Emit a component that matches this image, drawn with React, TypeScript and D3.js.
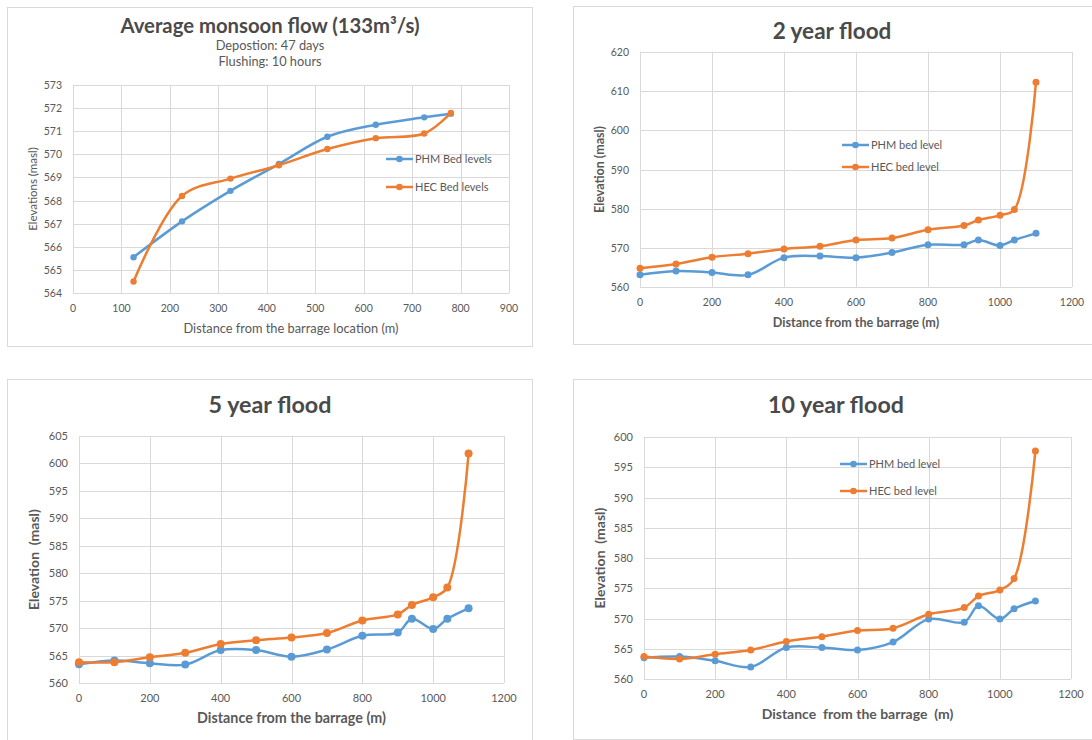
import React from 'react';
import * as d3 from 'd3';

// ---- data ----
const avgDistance = [125, 225, 325, 425, 525, 625, 725, 780];
const avgPhm = [565.55, 567.1, 568.42, 569.58, 570.76, 571.28, 571.6, 571.76];
const avgHec = [564.5, 568.2, 568.95, 569.53, 570.23, 570.7, 570.9, 571.79];

const floodDistance = [0, 100, 200, 300, 400, 500, 600, 700, 800, 900, 940, 1000, 1040, 1100];
const phm2 = [563.1, 564.1, 563.7, 563.1, 567.5, 567.9, 567.5, 568.8, 570.8, 570.8, 572.0, 570.6, 572.0, 573.7];
const hec2 = [564.8, 565.9, 567.6, 568.5, 569.7, 570.4, 572.0, 572.5, 574.6, 575.7, 577.1, 578.3, 579.8, 612.3];
const phm5 = [563.4, 564.1, 563.6, 563.35, 566.0, 566.0, 564.8, 566.1, 568.6, 569.2, 571.7, 569.85, 571.7, 573.6];
const hec5 = [563.8, 563.8, 564.7, 565.5, 567.1, 567.8, 568.3, 569.1, 571.4, 572.5, 574.2, 575.6, 577.4, 601.8];
const phm10 = [563.5, 563.7, 563.0, 562.0, 565.2, 565.2, 564.8, 566.1, 569.9, 569.4, 572.1, 569.9, 571.6, 572.9];
const hec10 = [563.7, 563.3, 564.1, 564.8, 566.2, 567.0, 568.0, 568.4, 570.7, 571.8, 573.7, 574.7, 576.6, 597.7];

const avgXTicks = d3.range(0, 901, 100);
const avgYTicks = d3.range(564, 574, 1);
const floodXTicks = d3.range(0, 1201, 200);
const y2Ticks = d3.range(560, 621, 10);
const y5Ticks = d3.range(560, 606, 5);
const y10Ticks = d3.range(560, 601, 5);

const BLUE = '#5B9BD5';
const ORANGE = '#ED7D31';
const TEXT = '#595959';
const GRID = '#D9D9D9';
const FONT = 'Lato, "Open Sans", sans-serif';

interface Series {
  name: string;
  color: string;
  values: number[];
}

interface PanelProps {
  frame: { x: number; y: number; w: number; h: number };
  plot: { left: number; right: number; top: number; bottom: number };
  xs: number[];
  series: Series[];
  xTicks: number[];
  yTicks: number[];
  title: string;
  titleX: number;
  titleY: number;
  titleSize: number;
  subtitles?: string[];
  xTitle: string;
  xTitleSize: number;
  yTitle: string;
  yTitleX: number;
  yTitleSize: number;
  axisBold: boolean;
  legend?: { x: number; y: number; gap: number };
  markerR: number;
  tickSize: number;
}

function Panel(p: PanelProps) {
  const x = d3.scaleLinear()
    .domain([p.xTicks[0], p.xTicks[p.xTicks.length - 1]])
    .range([p.plot.left, p.plot.right]);
  const y = d3.scaleLinear()
    .domain([p.yTicks[0], p.yTicks[p.yTicks.length - 1]])
    .range([p.plot.bottom, p.plot.top]);

  const line = d3.line<number>()
    .x((_, i) => x(p.xs[i]))
    .y(d => y(d))
    .curve(d3.curveCatmullRom.alpha(0.5));

  const plotMid = (p.plot.left + p.plot.right) / 2;
  const plotMidY = (p.plot.top + p.plot.bottom) / 2;
  const weight = p.axisBold ? 'bold' : 'normal';

  return (
    <g>
      <rect x={p.frame.x + 0.5} y={p.frame.y + 0.5} width={p.frame.w} height={p.frame.h}
        fill="#fff" stroke={GRID} strokeWidth={1} />

      {/* gridlines */}
      {p.yTicks.map(t => (
        <line key={'gy' + t} x1={p.plot.left} x2={p.plot.right}
          y1={Math.round(y(t)) + 0.5} y2={Math.round(y(t)) + 0.5} stroke={GRID} />
      ))}
      {p.xTicks.map(t => (
        <line key={'gx' + t} x1={Math.round(x(t)) + 0.5} x2={Math.round(x(t)) + 0.5}
          y1={p.plot.top} y2={p.plot.bottom} stroke={GRID} />
      ))}

      {/* tick labels */}
      {p.yTicks.map(t => (
        <text key={'ty' + t} x={p.plot.left - 11} y={y(t) + 4} textAnchor="end"
          fontSize={p.tickSize} fill={TEXT}>{t}</text>
      ))}
      {p.xTicks.map(t => (
        <text key={'tx' + t} x={x(t)} y={p.plot.bottom + 19} textAnchor="middle"
          fontSize={p.tickSize} fill={TEXT}>{t}</text>
      ))}

      {/* titles */}
      <text x={p.titleX} y={p.titleY} textAnchor="middle" fontSize={p.titleSize}
        fontWeight="bold" fill="#4a4a4a">{p.title}</text>
      {p.subtitles && p.subtitles.map((s, i) => (
        <text key={s} x={p.titleX} y={p.titleY + 17 + i * 16} textAnchor="middle"
          fontSize={12.8} fill={TEXT}>{s}</text>
      ))}
      <text x={plotMid} y={p.plot.bottom + 40} textAnchor="middle" fontSize={p.xTitleSize}
        fontWeight={weight} fill={TEXT} style={{ whiteSpace: 'pre' }}>{p.xTitle}</text>
      <text transform={`translate(${p.yTitleX},${plotMidY}) rotate(-90)`} textAnchor="middle"
        dy="0.35em" fontSize={p.yTitleSize} fontWeight={weight} fill={TEXT}
        style={{ whiteSpace: 'pre' }}>{p.yTitle}</text>

      {/* series */}
      {p.series.map(s => (
        <g key={s.name}>
          <path d={line(s.values) || ''} fill="none" stroke={s.color} strokeWidth={2.5}
            strokeLinejoin="round" strokeLinecap="round" />
          {s.values.map((v, i) => (
            <circle key={i} cx={x(p.xs[i])} cy={y(v)} r={p.markerR} fill={s.color} />
          ))}
        </g>
      ))}

      {/* legend */}
      {p.legend && p.series.map((s, i) => {
        const ly = p.legend!.y + i * p.legend!.gap;
        return (
          <g key={'lg' + s.name}>
            <line x1={p.legend!.x} x2={p.legend!.x + 27} y1={ly} y2={ly}
              stroke={s.color} strokeWidth={2.5} />
            <circle cx={p.legend!.x + 13.5} cy={ly} r={3.3} fill={s.color} />
            <text x={p.legend!.x + 29} y={ly + 4} fontSize={11} fill={TEXT}>{s.name}</text>
          </g>
        );
      })}
    </g>
  );
}

export default function App() {
  return (
    <div style={{ position: 'absolute', left: 0, top: 0 }}>
      <svg width={1092} height={740} style={{ display: 'block', fontFamily: FONT, background: '#fff' }}>
        <Panel
          frame={{ x: 7, y: 7, w: 525, h: 339 }}
          plot={{ left: 73, right: 509, top: 85, bottom: 293 }}
          xs={avgDistance}
          series={[
            { name: 'PHM Bed levels', color: BLUE, values: avgPhm },
            { name: 'HEC Bed levels', color: ORANGE, values: avgHec },
          ]}
          xTicks={avgXTicks}
          yTicks={avgYTicks}
          title="Average monsoon flow (133m³/s)"
          titleX={270}
          titleY={33}
          titleSize={20.3}
          subtitles={['Depostion: 47 days', 'Flushing: 10 hours']}
          xTitle="Distance from the barrage location (m)"
          xTitleSize={12.8}
          yTitle="Elevations (masl)"
          yTitleX={33}
          yTitleSize={11.5}
          axisBold={false}
          legend={{ x: 386, y: 159, gap: 28 }}
          markerR={3.2}
          tickSize={10.5}
        />
        <Panel
          frame={{ x: 573, y: 6, w: 530, h: 338 }}
          plot={{ left: 640, right: 1072, top: 52, bottom: 287 }}
          xs={floodDistance}
          series={[
            { name: 'PHM bed level', color: BLUE, values: phm2 },
            { name: 'HEC bed level', color: ORANGE, values: hec2 },
          ]}
          xTicks={floodXTicks}
          yTicks={y2Ticks}
          title="2 year flood"
          titleX={832}
          titleY={39}
          titleSize={22.5}
          xTitle="Distance from the barrage (m)"
          xTitleSize={12.6}
          yTitle="Elevation (masl)"
          yTitleX={600}
          yTitleSize={12.5}
          axisBold={true}
          legend={{ x: 842, y: 145, gap: 22 }}
          markerR={3.5}
          tickSize={10.5}
        />
        <Panel
          frame={{ x: 7, y: 379, w: 525, h: 370 }}
          plot={{ left: 79, right: 504, top: 436, bottom: 683 }}
          xs={floodDistance}
          series={[
            { name: 'PHM bed level', color: BLUE, values: phm5 },
            { name: 'HEC bed level', color: ORANGE, values: hec5 },
          ]}
          xTicks={floodXTicks}
          yTicks={y5Ticks}
          title="5 year flood"
          titleX={270}
          titleY={413}
          titleSize={23.3}
          xTitle="Distance from the barrage (m)"
          xTitleSize={14.3}
          yTitle="Elevation  (masl)"
          yTitleX={34}
          yTitleSize={14}
          axisBold={true}
          markerR={4}
          tickSize={11}
        />
        <Panel
          frame={{ x: 573, y: 379, w: 530, h: 360 }}
          plot={{ left: 644, right: 1071, top: 437, bottom: 679 }}
          xs={floodDistance}
          series={[
            { name: 'PHM bed level', color: BLUE, values: phm10 },
            { name: 'HEC bed level', color: ORANGE, values: hec10 },
          ]}
          xTicks={floodXTicks}
          yTicks={y10Ticks}
          title="10 year flood"
          titleX={836}
          titleY={413}
          titleSize={23.2}
          xTitle="Distance  from the barrage  (m)"
          xTitleSize={14}
          yTitle="Elevation  (masl)"
          yTitleX={600}
          yTitleSize={14}
          axisBold={true}
          legend={{ x: 840, y: 464, gap: 27 }}
          markerR={3.5}
          tickSize={11}
        />
      </svg>
    </div>
  );
}
